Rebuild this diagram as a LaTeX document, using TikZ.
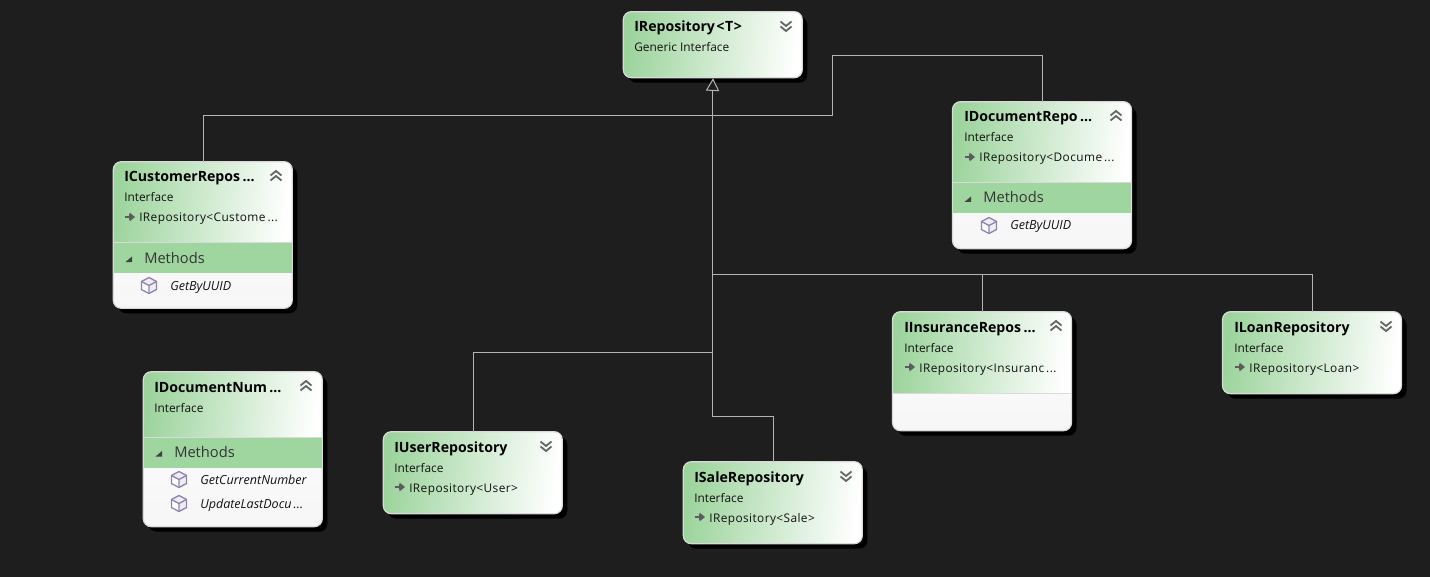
\documentclass[tikz,border=0pt]{standalone}
\usepackage{fontspec}
\setmainfont{Open Sans}
\usetikzlibrary{arrows.meta}
\definecolor{bgdark}{HTML}{1E1E1E}
\definecolor{hgreen}{HTML}{9DD49D}
\definecolor{band}{HTML}{9FD59F}
\definecolor{bodyw}{HTML}{F6F6F6}
\definecolor{edge}{HTML}{DADADA}
\definecolor{wire}{HTML}{B4B4B4}
\definecolor{cube}{HTML}{8F84AE}
\definecolor{ink}{HTML}{111111}
\definecolor{chev}{HTML}{666666}
\tikzset{
  x=0.75pt,y=-0.75pt,
  wirel/.style={draw=wire,line width=0.75pt},
  inherit/.style={wirel,-{Triangle[open,fill=bgdark,length=9.5pt,width=10pt]}},
  boxbody/.style={rectangle,rounded corners=6pt,draw=none,fill=none,inner sep=0pt,
     minimum width=134.25pt,anchor=north west},
  basetext/.style={anchor=west,inner sep=0pt,text height=7.5pt,text depth=0pt},
  titletext/.style={basetext,font=\fontsize{10.6pt}{12pt}\selectfont\bfseries,text=black},
  subtext/.style={basetext,font=\fontsize{8.9pt}{11pt}\selectfont,text=ink},
  reftext/.style={basetext,font=\fontsize{8.9pt}{11pt}\selectfont\addfontfeature{LetterSpace=3.5},text=ink},
  bandtext/.style={basetext,font=\fontsize{11pt}{12pt}\selectfont,text=ink!85},
  methtext/.style={basetext,font=\fontsize{9.4pt}{11pt}\selectfont\itshape,text=ink},
  headfill/.style={left color=hgreen,right color=white,shading angle=84},
}
% #1 name #2 x #3 y #4 height(px) #5 header height(px)
\newcommand{\ifacebox}[5]{%
  \fill[black] (#2+5,#3+5) [rounded corners=6pt] rectangle ++(179,#4);
  \begin{scope}
    \clip[rounded corners=6pt] (#2,#3) rectangle ++(179,#4);
    \path[top color=white,bottom color=bodyw] (#2,#3) rectangle ++(179,#4);
    \path[headfill] (#2,#3) rectangle ++(179,#5);
    \draw[edge,line width=0.75pt] (#2,#3+#5) -- ++(179,0);
  \end{scope}
  \node[boxbody,minimum height=#4*0.75pt] (#1) at (#2,#3) {};
  \draw[edge,line width=0.9pt,rounded corners=6pt] (#2,#3) rectangle ++(179,#4);
}
\newcommand{\chevup}[2]{%
  \draw[chev,line width=1.35pt] (#1-5.5,#2-0.5) -- (#1,#2-5) -- (#1+5.5,#2-0.5);
  \draw[chev,line width=1.35pt] (#1-5.5,#2+4.5) -- (#1,#2) -- (#1+5.5,#2+4.5);}
\newcommand{\chevdown}[2]{%
  \draw[chev,line width=1.35pt] (#1-5.5,#2-4.5) -- (#1,#2) -- (#1+5.5,#2-4.5);
  \draw[chev,line width=1.35pt] (#1-5.5,#2+0.5) -- (#1,#2+5) -- (#1+5.5,#2+0.5);}
\newcommand{\inharrow}[2]{%
  \draw[chev!90!black,line width=0.95pt] (#1-4.5,#2) -- (#1+3,#2);
  \fill[chev!90!black] (#1+6,#2) -- (#1+0.5,#2-4.5) -- (#1+0.5,#2+4.5) -- cycle;
  \fill[chev!90!black] (#1-0.5,#2-3) rectangle (#1+1,#2+3);}
\newcommand{\cubeicon}[2]{%
  \draw[cube,line width=1pt,line join=round,fill=cube!15] (#1,#2-8) -- (#1+7.5,#2-4) -- (#1+7.5,#2+4) -- (#1,#2+8) -- (#1-7.5,#2+4) -- (#1-7.5,#2-4) -- cycle;
  \fill[white] (#1-6.5,#2-2.5) -- (#1,#2+1) -- (#1,#2+7) -- (#1-6.5,#2+3.5) -- cycle;
  \draw[cube,line width=1pt,line join=round] (#1-7.5,#2-4) -- (#1,#2) -- (#1+7.5,#2-4) (#1,#2) -- (#1,#2+8);}
\newcommand{\methband}[3]{% x ytop name
  \fill[band] (#1+.5,#2) rectangle (#1+178.7,#2+30);
  \fill[ink!80] (#1+19,#2+13.5) -- (#1+12.5,#2+19) -- (#1+19,#2+19) -- cycle;
  \node[bandtext] (#3) at (#1+31,#2+15) {Methods};}
\begin{document}
\begin{tikzpicture}
\useasboundingbox (0,0) rectangle (1430,577);
\fill[bgdark] (0,0) rectangle (1430,577);

% boxes
\ifacebox{repo}{623.3}{11.7}{66}{66}
\ifacebox{docrepo}{952.5}{101.7}{147}{81.3}
\ifacebox{custrepo}{113.3}{161.7}{146.6}{81.3}
\ifacebox{docnum}{143.3}{371.7}{155}{65.3}
\ifacebox{userrepo}{383.3}{431.7}{82}{82}
\ifacebox{salerepo}{683.3}{461.7}{82}{82}
\ifacebox{insrepo}{892.5}{311.7}{119}{81.3}
\ifacebox{loanrepo}{1222.5}{311.7}{82}{82}

% connectors
\coordinate (trunk) at (712.5,274);
\coordinate (jc2) at (832.5,116);
\coordinate (jc3) at (832.5,56);
\coordinate (ju) at (712.5,352);
\coordinate (js) at (712.5,416);
\coordinate (jt) at (712.5,91);
\draw[wirel] (custrepo.north) |- (jc2) -- (jc3) -- (docrepo.north |- jc3) -- (docrepo.north);
\draw[wirel] (salerepo.north) |- (js) -- (jt);
\draw[wirel] (userrepo.north) |- (ju);
\draw[wirel] (insrepo.north) |- (trunk);
\draw[wirel] (loanrepo.north) |- (trunk);
\draw[inherit] (jt) -- (repo.south);

% repo
\node[titletext] (t1) at (634,27) {IRepository\kern1pt<\kern.6pt T\kern.4pt>};
\node[subtext] (s1) at (634,47) {Generic Interface};
\chevdown{786}{26}
% doc repo
\node[titletext] (t2) at (964,117) {IDocumentRepo\,...};
\node[subtext] (s2) at (964,137) {Interface};
\node[reftext] (b2) at (979,157) {IRepository<Docume\,...};
\inharrow{969}{157}
\chevup{1116}{116}
\methband{952}{183}{m2}
\cubeicon{989}{225.5}
\node[methtext] (g2) at (1010,225) {GetByUUID};
% customer
\node[titletext] (t3) at (124,177) {ICustomerRepos\,...};
\node[subtext] (s3) at (124,197) {Interface};
\node[reftext] (b3) at (139,217) {IRepository<Custome\,...};
\inharrow{129}{217}
\chevup{276}{176}
\methband{113}{243}{m3}
\cubeicon{149}{285.5}
\node[methtext] (g3) at (170,285) {GetByUUID};
% doc number
\node[titletext] (t4) at (154,387) {IDocumentNum\,...};
\node[subtext] (s4) at (154,407) {Interface};
\chevup{306}{386}
\methband{143}{437.5}{m4}
\cubeicon{179}{479.5}
\node[methtext] (g4) at (200,479) {GetCurrentNumber};
\cubeicon{179}{503.5}
\node[methtext] (h4) at (200,503) {UpdateLastDocu\,...};
% user
\node[titletext] (t5) at (394,447) {IUserRepository};
\node[subtext] (s5) at (394,467) {Interface};
\node[reftext] (b5) at (409,487) {IRepository<User>};
\inharrow{399}{487}
\chevdown{546}{446}
% sale
\node[titletext] (t6) at (694,477) {ISaleRepository};
\node[subtext] (s6) at (694,497) {Interface};
\node[reftext] (b6) at (709,517) {IRepository<Sale>};
\inharrow{699}{517}
\chevdown{846}{476}
% insurance
\node[titletext] (t7) at (904,327) {IInsuranceRepos\,...};
\node[subtext] (s7) at (904,347) {Interface};
\node[reftext] (b7) at (919,367) {IRepository<Insuranc\,...};
\inharrow{909}{367}
\chevup{1056}{326}
% loan
\node[titletext] (t8) at (1234,327) {ILoanRepository};
\node[subtext] (s8) at (1234,347) {Interface};
\node[reftext] (b8) at (1249,367) {IRepository<Loan>};
\inharrow{1239}{367}
\chevdown{1386}{326}
\end{tikzpicture}
\end{document}
